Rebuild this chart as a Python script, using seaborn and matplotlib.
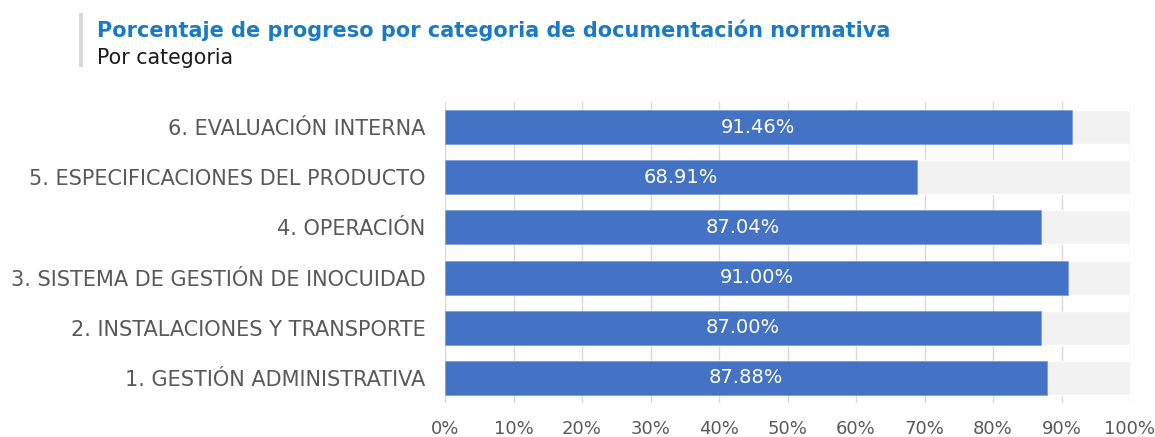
import matplotlib
matplotlib.use("Agg")
import matplotlib.pyplot as plt
import seaborn as sns
import pandas as pd
from matplotlib.ticker import MultipleLocator, FuncFormatter

categories = [
    "6. EVALUACIÓN INTERNA",
    "5. ESPECIFICACIONES DEL PRODUCTO",
    "4. OPERACIÓN",
    "3. SISTEMA DE GESTIÓN DE INOCUIDAD",
    "2. INSTALACIONES Y TRANSPORTE",
    "1. GESTIÓN ADMINISTRATIVA",
]
progress = [91.46, 68.91, 87.04, 91.00, 87.00, 87.88]
full = [100] * len(categories)

title = "Porcentaje de progreso por categoria de documentación normativa"
subtitle = "Por categoria"

df = pd.DataFrame({"cat": categories, "val": progress, "full": full})

sns.set_theme(style="white")
plt.rcParams["font.family"] = ["DejaVu Sans"]

fig = plt.figure(figsize=(11.55, 4.37), dpi=100)
ax = fig.add_axes([445 / 1155, 1 - 403 / 437, 685 / 1155, 301 / 437])

sns.barplot(data=df, y="cat", x="full", order=categories, color="#f2f2f2",
            width=0.68, ax=ax, orient="h", saturation=1, zorder=2)
sns.barplot(data=df, y="cat", x="val", order=categories, color="#4472c4",
            width=0.68, ax=ax, orient="h", saturation=1, zorder=3,
            edgecolor="#7f9fd8", linewidth=0.6)

for i, v in enumerate(progress):
    ax.text(v / 2, i, f"{v:.2f}%", ha="center", va="center", color="white",
            fontsize=14, zorder=4)

ax.set_xlim(0, 100)
ax.set_ylim(5.5, -0.5)
ax.xaxis.set_major_locator(MultipleLocator(10))
ax.xaxis.set_major_formatter(FuncFormatter(lambda x, p: f"{x:.0f}%"))
ax.grid(axis="x", color="#d9d9d9", linewidth=1, zorder=0)
ax.set_axisbelow(True)
for s in ax.spines.values():
    s.set_visible(False)
ax.set_xlabel("")
ax.set_ylabel("")
ax.tick_params(axis="x", colors="#595959", labelsize=13, length=0, pad=12)
ax.tick_params(axis="y", colors="#595959", labelsize=15, length=0, pad=14)

fig.text(97 / 1155, 1 - 30 / 437, title, color="#1a7bc4", fontsize=15,
         fontweight="bold", va="center", ha="left")
fig.text(97 / 1155, 1 - 58 / 437, subtitle, color="#1a1a1a", fontsize=14.8,
         va="center", ha="left")
fig.add_artist(plt.Rectangle((79 / 1155, 1 - 67 / 437), 4 / 1155, 54 / 437,
                             transform=fig.transFigure, color="#d9d9d9", lw=0))

fig.savefig("out.png", dpi=100)
